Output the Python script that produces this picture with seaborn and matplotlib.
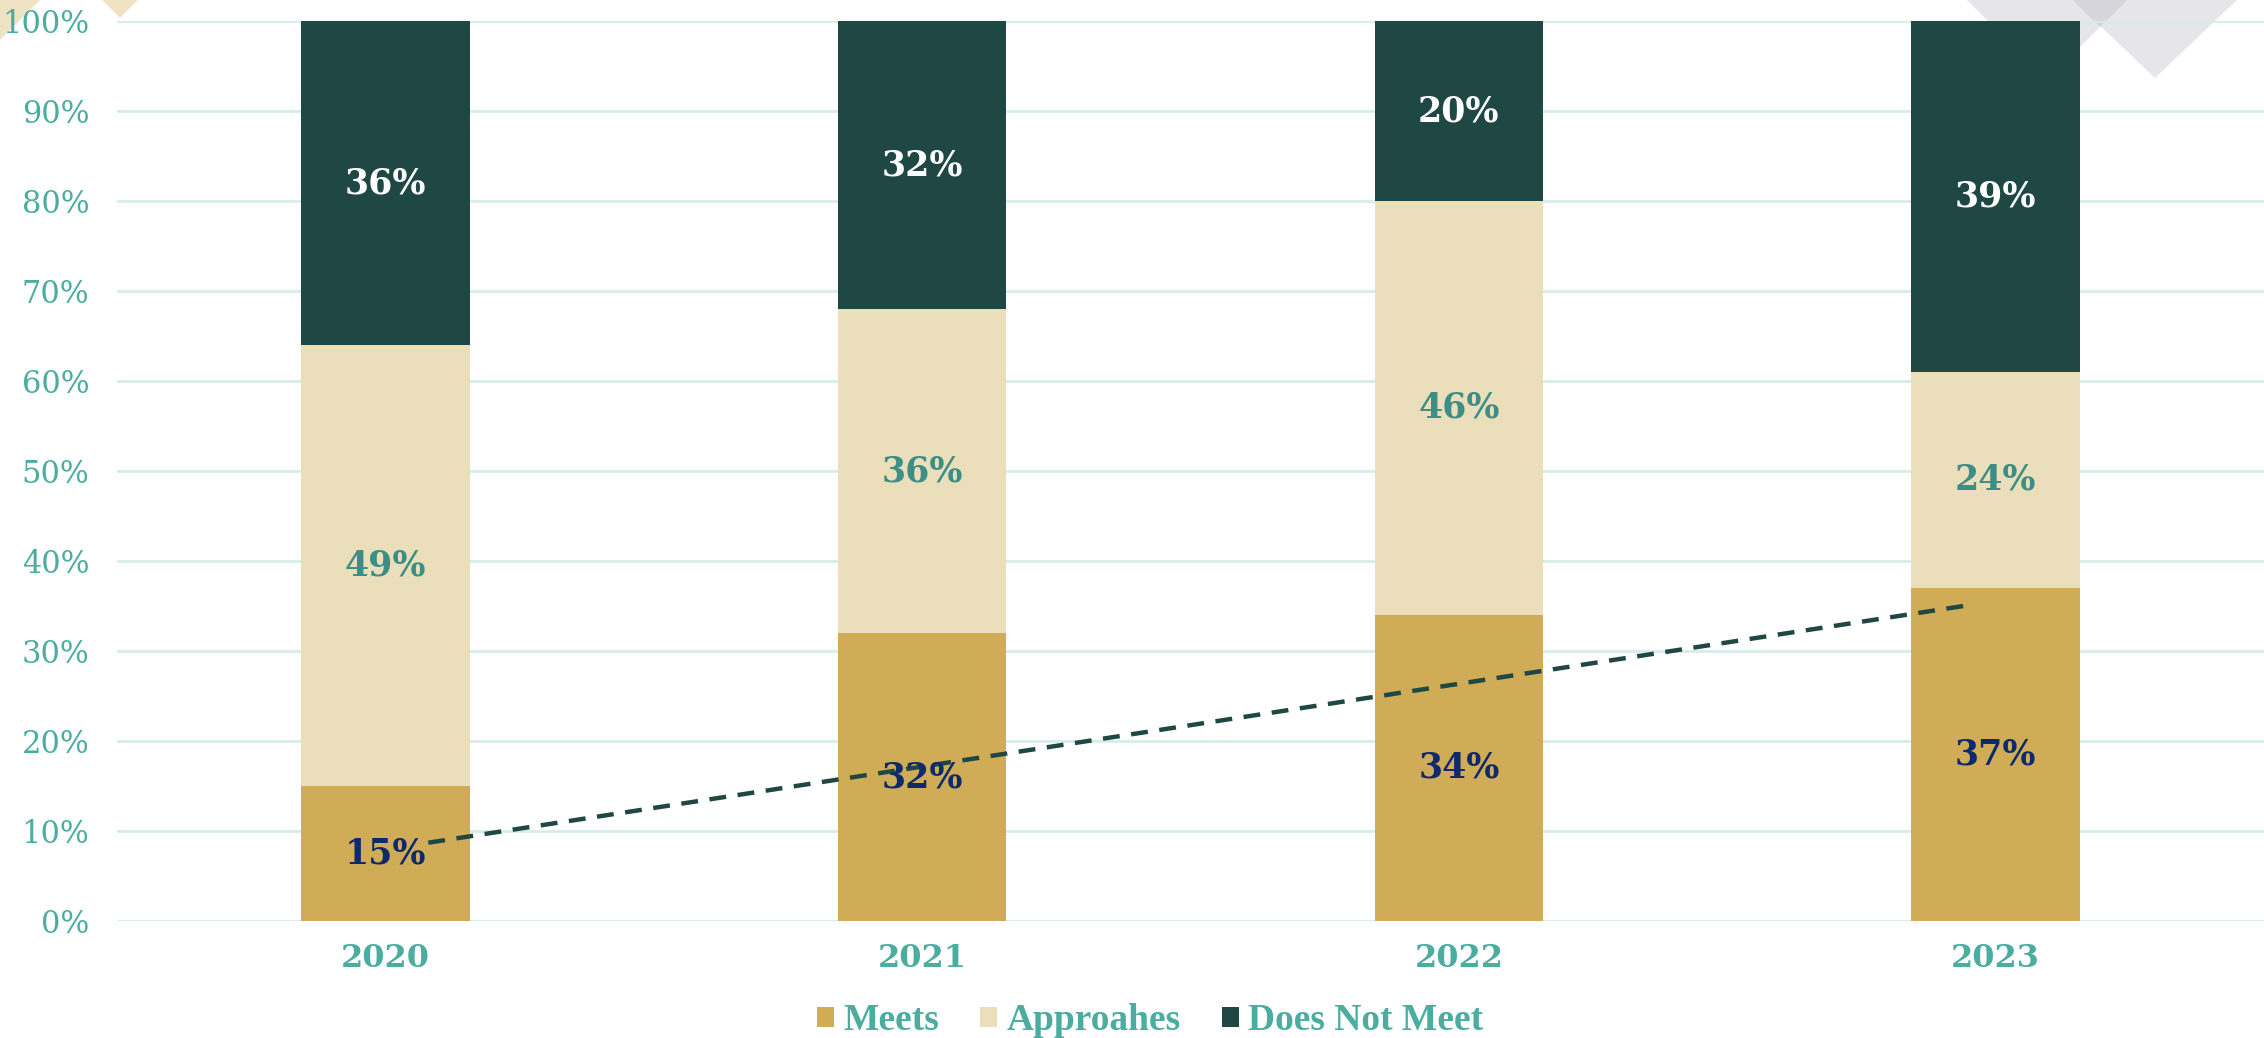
import pandas as pd
import matplotlib.pyplot as plt
import seaborn as sns
from matplotlib.patches import Patch, Polygon

# Datos del gráfico
years = ['2020', '2021', '2022', '2023']
meets = [15, 32, 34, 37]
approaches = [49, 36, 46, 24]
does_not_meet = [36, 32, 20, 39]
series_names = ['Meets', 'Approahes', 'Does Not Meet']

# Línea de tendencia (extremos)
trend_x = [0.08, 2.94]
trend_y = [8.7, 35.0]

df = pd.DataFrame({'Year': years, 'Meets': meets, 'Approaches': approaches,
                   'DoesNotMeet': does_not_meet})
df['Top2'] = df['Meets'] + df['Approaches']
df['Total'] = df['Top2'] + df['DoesNotMeet']

c_meets = '#CFAC55'
c_appr = '#EBDFBB'
c_dnm = '#1F4845'
c_teal = '#4AADA0'
c_grid = '#D6ECE9'

sns.set_theme(style='white')
plt.rcParams['font.family'] = ['DejaVu Serif']

fig = plt.figure(figsize=(22.64, 10.38), dpi=100)
ax = fig.add_axes([117 / 2264, 1 - 921 / 1038, 1 - 117 / 2264, (921 - 21) / 1038])
ax.set_facecolor('none')

# Decoraciones de fondo (rombos en las esquinas)
deco = [
    ([(0, 1038), (40, 1038), (0, 998)], '#EFE3C4'),
    ([(102, 1038), (138, 1038), (120, 1020)], '#EFE3C4'),
    ([(1967, 1038), (2127, 1038), (2047, 958)], '#E6E6EA'),
    ([(2073, 1038), (2237, 1038), (2155, 960)], '#E6E6EA'),
    ([(2073, 1038), (2127, 1038), (2100, 1011)], '#D6D5DB'),
]
for pts, col in deco:
    fig.patches.append(Polygon(pts, closed=True, transform=None, facecolor=col,
                               edgecolor='none', zorder=-5))

# Barras apiladas (se dibujan los acumulados de mayor a menor)
w = 0.314
for col, color in [('Total', c_dnm), ('Top2', c_appr), ('Meets', c_meets)]:
    sns.barplot(data=df, x='Year', y=col, color=color, width=w, saturation=1,
                linewidth=0, edgecolor='none', ax=ax, zorder=3)

# Etiquetas de valores
fs = 25
for i, row in df.iterrows():
    ax.text(i, row['Meets'] / 2, f"{row['Meets']}%", ha='center', va='center',
            fontsize=fs, fontweight='bold', color='#0E2A6B', zorder=6)
    ax.text(i, row['Meets'] + row['Approaches'] / 2, f"{row['Approaches']}%", ha='center',
            va='center', fontsize=fs, fontweight='bold', color='#3D8F86', zorder=6)
    ax.text(i, row['Top2'] + row['DoesNotMeet'] / 2, f"{row['DoesNotMeet']}%", ha='center',
            va='center', fontsize=fs, fontweight='bold', color='white', zorder=6)

# Tendencia
sns.lineplot(x=trend_x, y=trend_y, ax=ax, color=c_dnm, lw=3.2, zorder=5)
ax.lines[-1].set_dashes((3.8, 2.6))

ax.set_xlim(-0.5, 3.5)
ax.set_ylim(0, 100)
ax.set_yticks(range(0, 101, 10))
ax.set_yticklabels([f'{v}%' for v in range(0, 101, 10)])
ax.yaxis.grid(True, color=c_grid, lw=2, zorder=0)
ax.set_axisbelow(True)
ax.tick_params(axis='y', length=0, pad=20, labelsize=22, labelcolor=c_teal)
ax.tick_params(axis='x', length=0, pad=16, labelsize=23, labelcolor=c_teal)
for lab in ax.get_xticklabels():
    lab.set_fontweight('bold')
ax.set_xlabel('')
ax.set_ylabel('')
sns.despine(ax=ax, left=True, bottom=True)

handles = [Patch(facecolor=c, edgecolor='none') for c in [c_meets, c_appr, c_dnm]]
leg = fig.legend(handles, series_names, loc='center', bbox_to_anchor=(1150 / 2264, 1 - 1021 / 1038),
                 ncol=3, frameon=False, handlelength=0.45, handleheight=0.45,
                 handletextpad=0.25, columnspacing=1.1,
                 prop={'family': 'Liberation Serif', 'weight': 'bold', 'size': 27})
for t in leg.get_texts():
    t.set_color(c_teal)

fig.savefig('out.png', dpi=100)
